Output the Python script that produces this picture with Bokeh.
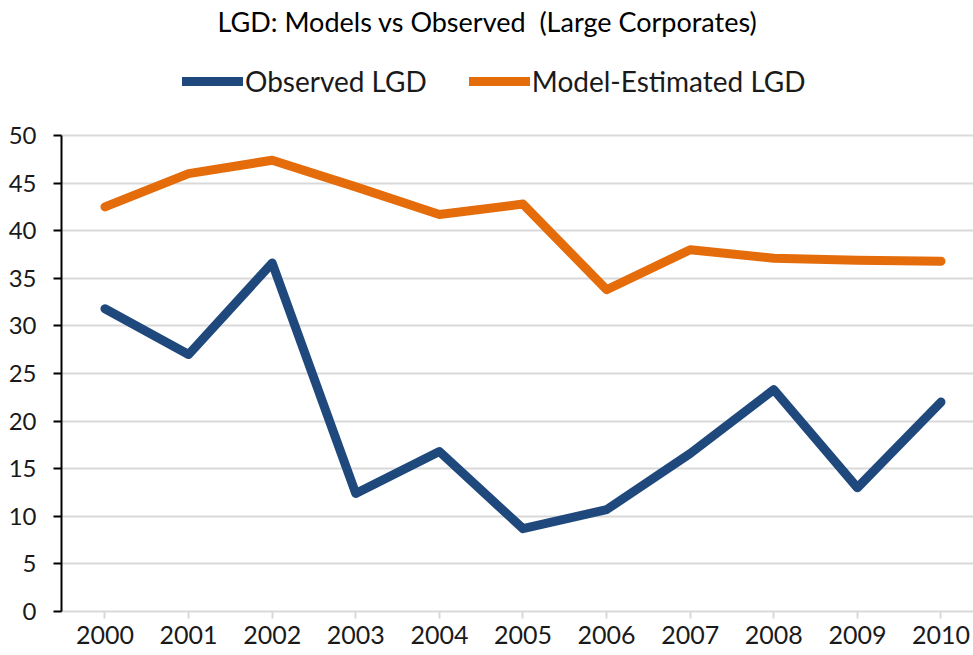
from bokeh.plotting import figure
from bokeh.models import Range1d, Legend, LegendItem, FixedTicker, Label
from bokeh.embed import file_html
from bokeh.resources import INLINE

title_text = "LGD: Models vs Observed\u00a0 (Large Corporates)"
years = [2000, 2001, 2002, 2003, 2004, 2005, 2006, 2007, 2008, 2009, 2010]
observed = [31.8, 27.0, 36.6, 12.4, 16.8, 8.7, 10.7, 16.6, 23.3, 13.0, 22.0]
model = [42.5, 46.0, 47.4, 44.6, 41.7, 42.8, 33.8, 38.0, 37.1, 36.9, 36.8]
y_ticks = [0, 5, 10, 15, 20, 25, 30, 35, 40, 45, 50]

FONT = "Lato"
TXT = "#1a1a1a"

p = figure(width=973, height=655, output_backend="svg", toolbar_location=None,
           x_range=Range1d(1999.480, 2010.389), y_range=Range1d(0, 64.18),
           min_border_left=61, min_border_right=0, min_border_top=0,
           min_border_bottom=44, outline_line_color=None)

title = Label(x=426, y=590, x_units="screen", y_units="screen", text=title_text,
              text_align="center", text_baseline="middle", text_font=FONT,
              text_font_size="27px", text_color="#000000")
p.add_layout(title)

r_obs = p.line(years, observed, line_width=9, line_color="#1F497D",
               line_join="round", line_cap="round")
r_mod = p.line(years, model, line_width=9, line_color="#E46C0A",
               line_join="round", line_cap="round")

legend = Legend(items=[LegendItem(label="Observed LGD", renderers=[r_obs]),
                       LegendItem(label="Model-Estimated LGD", renderers=[r_mod])],
                orientation="horizontal", location=(121, 513))
legend.border_line_color = None
legend.background_fill_alpha = 0
legend.label_text_font = FONT
legend.label_text_font_size = "28px"
legend.label_text_color = TXT
legend.glyph_width = 61
legend.glyph_height = 12
legend.label_standoff = 2
legend.spacing = 42
legend.padding = 0
legend.margin = 0
p.add_layout(legend)

p.xgrid.visible = False
p.ygrid.ticker = FixedTicker(ticks=y_ticks)
p.ygrid.grid_line_color = "#d9d9d9"
p.ygrid.grid_line_width = 2

p.yaxis.ticker = FixedTicker(ticks=y_ticks)
p.yaxis.bounds = (0, 50)
p.yaxis.axis_line_color = "#000000"
p.yaxis.axis_line_width = 2
p.yaxis.major_tick_line_color = "#000000"
p.yaxis.major_tick_line_width = 2
p.yaxis.major_tick_out = 8
p.yaxis.major_tick_in = 0
p.yaxis.minor_tick_line_color = None
p.yaxis.major_label_standoff = 17
p.yaxis.major_label_text_font = FONT
p.yaxis.major_label_text_font_size = "24px"
p.yaxis.major_label_text_color = TXT

p.xaxis.ticker = FixedTicker(ticks=years)
p.xaxis.axis_line_color = "#d9d9d9"
p.xaxis.axis_line_width = 2
p.xaxis.major_tick_line_color = "#d9d9d9"
p.xaxis.major_tick_line_width = 2
p.xaxis.major_tick_out = 7
p.xaxis.major_tick_in = 0
p.xaxis.minor_tick_line_color = None
p.xaxis.major_label_standoff = 7
p.xaxis.major_label_text_font = FONT
p.xaxis.major_label_text_font_size = "25px"
p.xaxis.major_label_text_color = TXT

open("out.html", "w").write(file_html(p, INLINE))
